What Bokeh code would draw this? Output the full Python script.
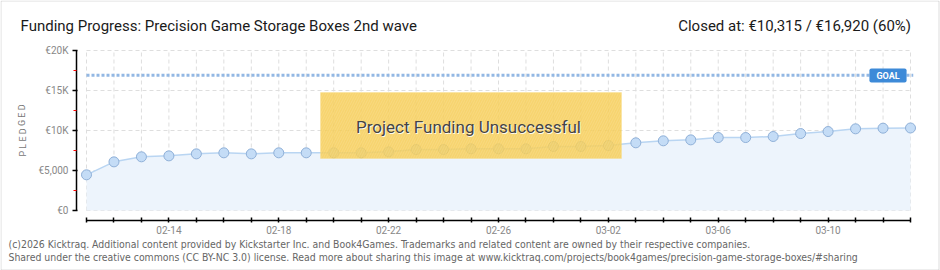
from bokeh.plotting import figure
from bokeh.models import FixedTicker, Label, BoxAnnotation, Range1d
from bokeh.embed import file_html
from bokeh.resources import INLINE

# ---- data ----
dates = ["02-11", "02-12", "02-13", "02-14", "02-15", "02-16", "02-17", "02-18",
         "02-19", "02-20", "02-21", "02-22", "02-23", "02-24", "02-25", "02-26",
         "02-27", "02-28", "03-01", "03-02", "03-03", "03-04", "03-05", "03-06",
         "03-07", "03-08", "03-09", "03-10", "03-11", "03-12", "03-13"]
pledged = [4460, 6080, 6710, 6830, 7080, 7210, 7080, 7210, 7210, 7210, 7210,
           7330, 7620, 7620, 7710, 7710, 7710, 8000, 8000, 8120, 8460, 8710,
           8830, 9120, 9120, 9250, 9620, 9870, 10210, 10290, 10315]
x_labels = ["02-14", "02-18", "02-22", "02-26", "03-02", "03-06", "03-10"]
y_ticks = [0, 5000, 10000, 15000, 20000]
y_tick_labels = ["€0", "€5,000", "€10K", "€15K", "€20K"]
y_minor = [2500, 7500, 12500, 17500]
goal = 16920
closed = 10315

title = "Funding Progress: Precision Game Storage Boxes 2nd wave"
status = "Closed at:  €10,315 /  €16,920 (60%)"
footer1 = ("(c)2026 Kicktraq. Additional content provided by Kickstarter Inc. and Book4Games. "
           "Trademarks and related content are owned by their respective companies.")
footer2 = ("Shared under the creative commons (CC BY-NC 3.0) license. Read more about sharing this "
           "image at www.kicktraq.com/projects/book4games/precision-game-storage-boxes/#sharing")

xs = list(range(len(dates)))
n = len(dates) - 1

FONT = "Roboto"
W, H = 940, 270
# pixel layout of the data area inside the canvas
X0PX, X1PX = 86, 910      # first / last day
Y0PX, Y1PX = 210, 50      # 0 / top tick
dx = (X1PX - X0PX) / n
dy = (Y0PX - Y1PX) / y_ticks[-1]

p = figure(width=W, height=H, output_backend="svg", toolbar_location=None,
           x_range=Range1d(-X0PX / dx, (W - X0PX) / dx),
           y_range=Range1d(-(H - Y0PX) / dy, Y0PX / dy),
           min_border_left=0, min_border_right=0, min_border_top=0, min_border_bottom=0)
p.outline_line_color = None
p.xgrid.visible = False
p.ygrid.visible = False
p.background_fill_color = "white"
p.border_fill_color = "white"

# grid (dashed)
p.segment(x0=xs, x1=xs, y0=[0] * len(xs), y1=[y_ticks[-1]] * len(xs),
          line_color="#dedede", line_dash="4 3", line_width=1)
p.segment(x0=[0] * len(y_ticks), x1=[n] * len(y_ticks), y0=y_ticks, y1=y_ticks,
          line_color="#dedede", line_dash="4 3", line_width=1)

# area + line + markers
p.varea(x=xs, y1=[0] * len(xs), y2=pledged, fill_color="#edf4fc")
p.line(xs, pledged, line_color="#b9d5f2", line_width=1.5)
p.scatter(xs, pledged, size=10, fill_color="#c4dcf6", line_color="#8fb0d8", line_width=1)

# goal line
p.segment(x0=[0], x1=[n + 0.1], y0=[goal], y1=[goal], line_color="#93b8e4",
          line_width=3, line_dash="3 2")

# axes (placed at fixed data locations, offset from the data area)
xa = p.xaxis[0]
xa.fixed_location = -10 / dy
xa.ticker = FixedTicker(ticks=xs, minor_ticks=[])
xa.major_label_overrides = {i: (d if d in x_labels else "") for i, d in zip(xs, dates)}
xa.bounds = (0, n)
xa.axis_line_color = "black"
xa.axis_line_width = 1.5
xa.major_tick_line_color = "black"
xa.major_tick_line_width = 1.5
xa.major_tick_in = 3
xa.major_tick_out = 2
xa.major_label_standoff = 3
xa.major_label_text_font = FONT
xa.major_label_text_font_size = "10px"
xa.major_label_text_color = "#888888"

ya = p.yaxis[0]
ya.fixed_location = -10 / dx
ya.ticker = FixedTicker(ticks=y_ticks, minor_ticks=y_minor)
ya.major_label_overrides = dict(zip(y_ticks, y_tick_labels))
ya.bounds = (0, y_ticks[-1])
ya.axis_line_color = "black"
ya.axis_line_width = 1.5
ya.major_tick_line_color = "black"
ya.major_tick_line_width = 1.5
ya.major_tick_in = 1
ya.major_tick_out = 4
ya.minor_tick_line_color = "red"
ya.minor_tick_in = 0
ya.minor_tick_out = 3
ya.major_label_standoff = 4
ya.major_label_text_font = FONT
ya.major_label_text_font_size = "10px"
ya.major_label_text_color = "#888888"


def sx(cx):
    return cx


def sy(cy):
    return H - cy


def box(l, r, t, b, **kw):
    return BoxAnnotation(left=sx(l), right=sx(r), bottom=sy(b), top=sy(t),
                         left_units="screen", right_units="screen",
                         bottom_units="screen", top_units="screen", **kw)


def label(x, y, text, **kw):
    return Label(x=sx(x), y=sy(y), x_units="screen", y_units="screen", text=text, **kw)


# outer border
p.add_layout(box(0.5, 938.5, 0.5, 269.5, fill_alpha=0, line_color="#8a8a8a", line_width=1))

# unsuccessful overlay
p.add_layout(box(320, 621, 92, 158, fill_color="#f6cc55", fill_alpha=0.85,
                 hatch_pattern="/", hatch_color="white", hatch_alpha=0.12,
                 hatch_scale=5, line_color="#f9dd85", line_width=1))
p.add_layout(label(469, 127, "Project Funding Unsuccessful", text_align="center",
                   text_baseline="middle", text_font=FONT, text_font_size="17px",
                   text_color="white", text_alpha=0.9))
p.add_layout(label(468, 126, "Project Funding Unsuccessful", text_align="center",
                   text_baseline="middle", text_font=FONT, text_font_size="17px",
                   text_color="#444444"))

# GOAL tag
p.add_layout(label(887.5, 75, "GOAL", text_align="center", text_baseline="middle",
                   text_font=FONT, text_font_size="9px", text_font_style="bold",
                   text_color="white", background_fill_color="#3d8ad8",
                   padding=(7, 2), border_radius=2))

# titles
p.add_layout(label(20, 25, title, text_baseline="middle", text_font=FONT,
                   text_font_size="15px", text_color="#1a1a1a"))
p.add_layout(label(918, 25, status, text_align="right", text_baseline="middle",
                   text_font=FONT, text_font_size="15px", text_color="#1a1a1a"))

# y-axis title
p.add_layout(label(22, 130, "P L E D G E D", angle=1.5708, text_align="center",
                   text_baseline="middle", text_font=FONT, text_font_size="9px",
                   text_color="#777777"))

# footer
p.add_layout(label(8, 243, footer1, text_baseline="middle", text_font="DejaVu Sans Condensed",
                   text_font_size="10.4px", text_color="#666666"))
p.add_layout(label(8, 256, footer2, text_baseline="middle", text_font="DejaVu Sans Condensed",
                   text_font_size="10.4px", text_color="#666666"))

open("out.html", "w").write(file_html(p, INLINE))
